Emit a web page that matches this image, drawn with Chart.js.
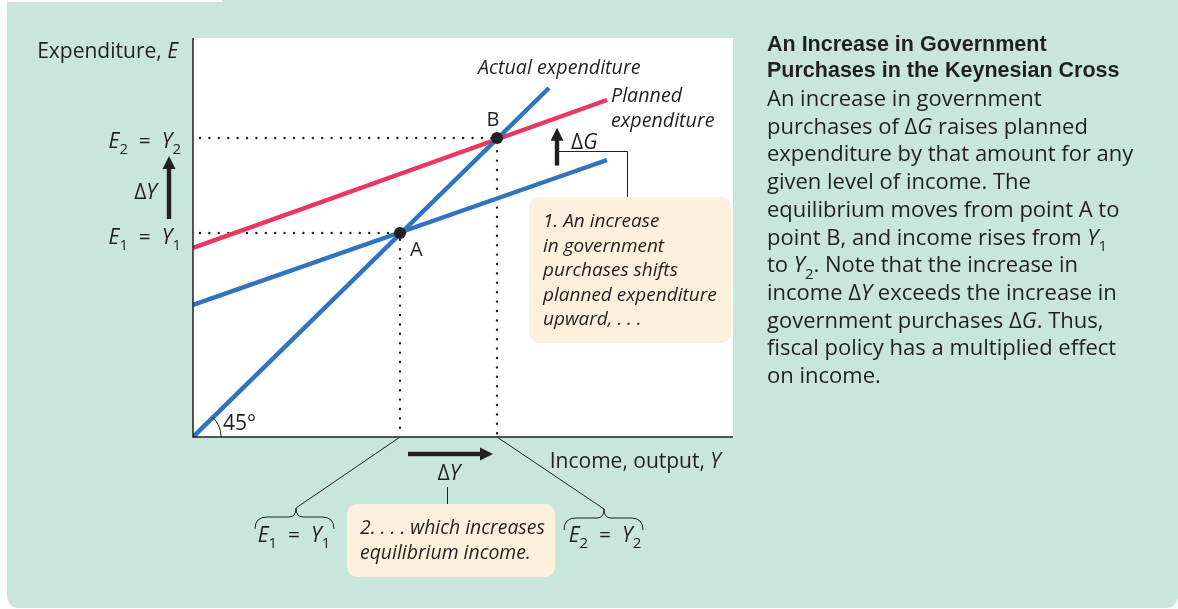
<!DOCTYPE html>
<html>
<head>
<meta charset="utf-8">
<script src="https://cdn.jsdelivr.net/npm/chart.js@4"></script>
<style>
  html, body { margin: 0; background: #fff; }
</style>
</head>
<body>
<canvas id="keynes" width="1178" height="609"></canvas>
<script>
    // Keynesian cross, values read in plot units (income on x, expenditure on y)
    const actualLine = [{x: 0, y: 0}, {x: 356, y: 349}];
    const plannedOld = [{x: 0, y: 132}, {x: 414, y: 277}];
    const plannedNew = [{x: 0, y: 189}, {x: 414, y: 337}];
    const pointA = {x: 207, y: 204};
    const pointB = {x: 304, y: 299};
    const guideFrom = 7;

    const titleLines = ['An Increase in Government', 'Purchases in the Keynesian Cross'];
    const bodyLines = [
        'An increase in government',
        'purchases of Δ*G* raises planned',
        'expenditure by that amount for any',
        'given level of income. The',
        'equilibrium moves from point A to',
        'point B, and income rises from *Y*{1}',
        'to *Y*{2}. Note that the increase in',
        'income Δ*Y* exceeds the increase in',
        'government purchases Δ*G*. Thus,',
        'fiscal policy has a multiplied effect',
        'on income.'
    ];
    const note1 = ['1. An increase', 'in government', 'purchases shifts', 'planned expenditure', 'upward, . . .'];
    const note2 = ['2. . . . which increases', 'equilibrium income.'];

    const INK = '#231f20';
    const BLUE = '#2f74c0';
    const RED = '#e8385f';
    const GREEN = '#c9e6dc';
    const PEACH = '#fdf0dc';
    const FAM = '"Open Sans", "Noto Sans", sans-serif';

    // text with *italic* and {subscript} runs
    function rich(ctx, str, x, y, size, align, italicAll) {
        const parts = str.split(/(\*[^*]+\*|\{[^}]+\})/).filter(s => s.length);
        const runs = parts.map(p => {
            if (p[0] === '*') return {t: p.slice(1, -1), f: 'italic ' + size + 'px ' + FAM, dy: 0};
            if (p[0] === '{') return {t: p.slice(1, -1), f: (italicAll ? 'italic ' : '') + Math.round(size * 0.7) + 'px ' + FAM, dy: size * 0.3};
            return {t: p, f: (italicAll ? 'italic ' : '') + size + 'px ' + FAM, dy: 0};
        });
        let w = 0;
        runs.forEach(r => { ctx.font = r.f; w += ctx.measureText(r.t).width; });
        let cx = align === 'right' ? x - w : align === 'center' ? x - w / 2 : x;
        runs.forEach(r => {
            ctx.font = r.f;
            ctx.fillText(r.t, cx, y + r.dy);
            cx += ctx.measureText(r.t).width;
        });
    }

    function arrow(ctx, x1, y1, x2, y2) {
        const a = Math.atan2(y2 - y1, x2 - x1);
        const len = Math.hypot(x2 - x1, y2 - y1);
        ctx.save();
        ctx.translate(x1, y1);
        ctx.rotate(a);
        ctx.fillStyle = INK;
        ctx.fillRect(0, -2.2, len - 10, 4.4);
        ctx.beginPath();
        ctx.moveTo(len, 0);
        ctx.lineTo(len - 13, -6.5);
        ctx.lineTo(len - 13, 6.5);
        ctx.closePath();
        ctx.fill();
        ctx.restore();
    }

    function brace(ctx, cx, top, left, right) {
        ctx.beginPath();
        ctx.moveTo(left, top + 21);
        ctx.quadraticCurveTo(left, top + 9, left + 12, top + 9);
        ctx.lineTo(cx - 7, top + 9);
        ctx.quadraticCurveTo(cx, top + 9, cx, top);
        ctx.quadraticCurveTo(cx, top + 9, cx + 7, top + 9);
        ctx.lineTo(right - 12, top + 9);
        ctx.quadraticCurveTo(right, top + 9, right, top + 21);
        ctx.stroke();
    }

    const deco = {
        id: 'deco',
        beforeDraw(chart) {
            const ctx = chart.ctx, area = chart.chartArea;
            ctx.save();
            ctx.fillStyle = '#fff';
            ctx.fillRect(0, 0, chart.width, chart.height);
            ctx.fillStyle = GREEN;
            ctx.beginPath();
            ctx.roundRect(7, 0, chart.width - 7, 608, [0, 0, 12, 12]);
            ctx.fill();
            ctx.fillStyle = '#fff';
            ctx.fillRect(0, 0, 222, 2);
            ctx.fillRect(area.left, area.top, area.right - area.left, area.bottom - area.top);
            ctx.restore();
        },
        afterDraw(chart) {
            const ctx = chart.ctx, area = chart.chartArea;
            const px = v => chart.scales.x.getPixelForValue(v);
            const py = v => chart.scales.y.getPixelForValue(v);
            const ax = px(pointA.x), ay = py(pointA.y), bx = px(pointB.x), by = py(pointB.y);
            ctx.save();
            ctx.strokeStyle = INK;
            ctx.fillStyle = INK;
            ctx.textBaseline = 'alphabetic';

            // axes
            ctx.lineWidth = 1.5;
            ctx.beginPath();
            ctx.moveTo(area.left, area.top);
            ctx.lineTo(area.left, area.bottom);
            ctx.lineTo(area.right, area.bottom);
            ctx.stroke();

            // 45 degree mark
            ctx.lineWidth = 1;
            ctx.beginPath();
            ctx.arc(area.left, area.bottom, 28, -Math.PI / 4, 0);
            ctx.stroke();
            rich(ctx, '45°', 223, 430, 21, 'left');

            // axis titles
            rich(ctx, 'Expenditure, *E*', 178, 58, 21, 'right');
            rich(ctx, 'Income, output, *Y*', 721, 468, 21, 'right');

            // line labels
            rich(ctx, 'Actual expenditure', 478, 74, 19.7, 'left', true);
            rich(ctx, 'Planned', 611, 102, 19.7, 'left', true);
            rich(ctx, 'expenditure', 611, 127, 19.7, 'left', true);
            rich(ctx, 'B', bx - 4, by - 12, 20, 'center');
            rich(ctx, 'A', ax + 10, ay + 23, 20, 'left');

            // left axis equilibrium labels and delta Y
            rich(ctx, '*E*{2}  =  *Y*{2}', 181, by + 10, 21, 'right');
            rich(ctx, '*E*{1}  =  *Y*{1}', 181, ay + 11, 21, 'right');
            arrow(ctx, 169, ay - 14, 169, by + 18);
            rich(ctx, 'Δ*Y*', 157, 199, 21, 'right');

            // shift of planned expenditure, delta G
            const gx = 557;
            const gv = chart.scales.x.getValueForPixel(gx);
            const gOld = py(plannedOld[0].y + (plannedOld[1].y - plannedOld[0].y) * gv / plannedOld[1].x);
            const gNew = py(plannedNew[0].y + (plannedNew[1].y - plannedNew[0].y) * gv / plannedNew[1].x);
            arrow(ctx, gx, gOld - 12, gx, gNew + 10);
            rich(ctx, 'Δ*G*', 571, 149, 21, 'left');
            ctx.lineWidth = 1;
            ctx.beginPath();
            ctx.moveTo(gx + 2, 151.5);
            ctx.lineTo(627.5, 151.5);
            ctx.lineTo(627.5, 197);
            ctx.stroke();

            // callout 1
            ctx.fillStyle = PEACH;
            ctx.beginPath();
            ctx.roundRect(529, 197, 202, 146, 10);
            ctx.fill();
            ctx.fillStyle = INK;
            note1.forEach((s, i) => rich(ctx, s, 543, 227 + i * 24.6, 19, 'left', true));

            // income change below axis
            arrow(ctx, ax + 8, 454, bx - 4, 454);
            rich(ctx, 'Δ*Y*', 449, 480, 21, 'center');
            ctx.beginPath();
            ctx.moveTo(447.5, 487);
            ctx.lineTo(447.5, 505);
            ctx.stroke();
            ctx.fillStyle = PEACH;
            ctx.beginPath();
            ctx.roundRect(347, 504, 208, 73, 10);
            ctx.fill();
            ctx.fillStyle = INK;
            note2.forEach((s, i) => rich(ctx, s, 360, 534 + i * 25, 19.4, 'left', true));

            // braces to the equilibrium incomes
            ctx.beginPath();
            ctx.moveTo(ax, area.bottom);
            ctx.lineTo(296, 508);
            ctx.moveTo(bx, area.bottom);
            ctx.lineTo(604, 509);
            ctx.stroke();
            brace(ctx, 296, 508, 255, 334);
            brace(ctx, 604, 509, 564, 643);
            rich(ctx, '*E*{1}  =  *Y*{1}', 294, 542, 21, 'center');
            rich(ctx, '*E*{2}  =  *Y*{2}', 605, 542, 21, 'center');

            // caption
            ctx.font = 'bold 21.5px "Liberation Sans", Arial, sans-serif';
            titleLines.forEach((s, i) => ctx.fillText(s, 767, 51 + i * 26));
            bodyLines.forEach((s, i) => rich(ctx, s, 767, 106 + i * 27.7, 22, 'left'));
            ctx.restore();
        }
    };

    const keynesCtx = document.getElementById('keynes').getContext('2d');
    new Chart(keynesCtx, {
        type: 'scatter',
        data: {
        datasets: [{
            label: 'Equilibria',
            data: [pointA, pointB],
            pointRadius: 6,
            pointBackgroundColor: INK,
            pointBorderWidth: 0,
            showLine: false
        }, {
            label: 'Actual expenditure',
            data: actualLine,
            showLine: true,
            borderColor: BLUE,
            borderWidth: 4.5,
            pointRadius: 0
        }, {
            label: 'Planned expenditure (new)',
            data: plannedNew,
            showLine: true,
            borderColor: RED,
            borderWidth: 4.5,
            pointRadius: 0
        }, {
            label: 'Planned expenditure (old)',
            data: plannedOld,
            showLine: true,
            borderColor: BLUE,
            borderWidth: 4.5,
            pointRadius: 0
        }, {
            label: 'Guide B',
            data: [{x: guideFrom, y: pointB.y}, pointB, {x: pointB.x, y: 0}],
            showLine: true,
            borderColor: INK,
            borderWidth: 2.4,
            borderDash: [0, 9.4],
            borderCapStyle: 'round',
            pointRadius: 0
        }, {
            label: 'Guide A',
            data: [{x: guideFrom, y: pointA.y}, pointA, {x: pointA.x, y: 0}],
            showLine: true,
            borderColor: INK,
            borderWidth: 2.4,
            borderDash: [0, 9.4],
            borderCapStyle: 'round',
            pointRadius: 0
        }]
        },
        options: {
        responsive: false,
        animation: false,
        events: [],
        layout: { padding: { left: 193, top: 38, right: 445, bottom: 172 } },
        scales: {
            x: { type: 'linear', min: 0, max: 540, display: false },
            y: { type: 'linear', min: 0, max: 399, display: false }
        },
        plugins: { legend: { display: false }, tooltip: { enabled: false } }
        },
        plugins: [deco]
    });
</script>
</body>
</html>
